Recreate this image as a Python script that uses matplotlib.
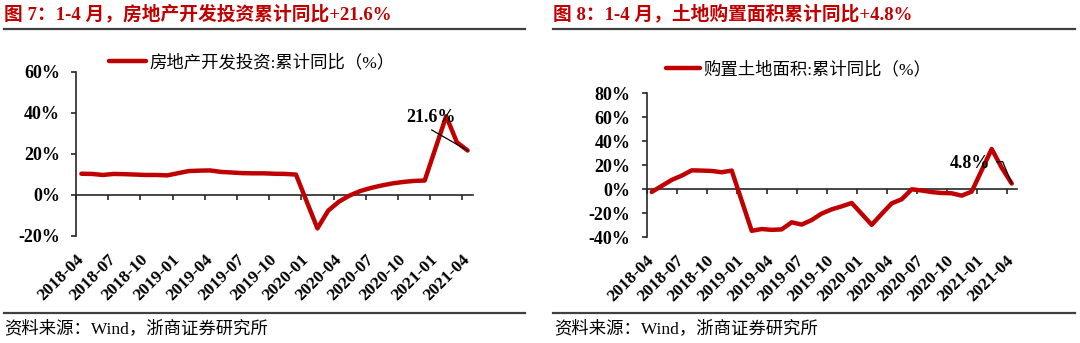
import numpy as np
import matplotlib
matplotlib.use('Agg')
import matplotlib.pyplot as plt
from matplotlib.lines import Line2D

# ---------------- data ----------------
months = ['2018-04', '2018-05', '2018-06', '2018-07', '2018-08', '2018-09', '2018-10', '2018-11', '2018-12',
          '2019-01', '2019-02', '2019-03', '2019-04', '2019-05', '2019-06', '2019-07', '2019-08', '2019-09',
          '2019-10', '2019-11', '2019-12', '2020-01', '2020-02', '2020-03', '2020-04', '2020-05', '2020-06',
          '2020-07', '2020-08', '2020-09', '2020-10', '2020-11', '2020-12', '2021-01', '2021-02', '2021-03',
          '2021-04']
nan = float('nan')
invest_yoy = [10.3, 10.2, 9.7, 10.2, 10.1, 9.9, 9.7, 9.7, 9.5,
              nan, 11.6, 11.8, 11.9, 11.2, 10.9, 10.6, 10.5, 10.5,
              10.3, 10.2, 9.9, nan, -16.3, -7.7, -3.3, -0.3, 1.9,
              3.4, 4.6, 5.6, 6.3, 6.8, 7.0, nan, 38.3, 25.6,
              21.6]
land_yoy = [-2.2, 2.8, 7.8, 11.4, 15.8, 15.6, 15.3, 14.2, 15.6,
            nan, -34.6, -33.1, -33.8, -33.4, -27.5, -29.4, -25.6, -20.2,
            -16.7, -14.2, -11.4, nan, -29.6, -20.5, -11.7, -8.3, 0.0,
            -1.0, -2.3, -3.1, -3.3, -5.3, -1.9, nan, 33.6, 18.0,
            4.8]
tick_label_months = months[::3]

left_title = '图 7：1-4 月，房地产开发投资累计同比+21.6%'
right_title = '图 8：1-4 月，土地购置面积累计同比+4.8%'
left_legend = '房地产开发投资:累计同比（%）'
right_legend = '购置土地面积:累计同比（%）'
source_text = '资料来源：Wind，浙商证券研究所'

RED = '#C00000'
SERIF_CJK = ['Liberation Serif', 'Noto Sans CJK SC']
W, H = 1080, 343

fig = plt.figure(figsize=(W / 100, H / 100), dpi=100)


def fx(px):
    return px / W


def fy(py):
    return 1 - py / H


def panel(rect, values, ylim, yticks, legend_label, legend_xy, handle_len,
          annot_text, annot_xy, leader_pts, label_pad):
    ax = fig.add_axes(rect)
    x = np.arange(len(months))
    v = np.array(values, dtype=float)
    m = ~np.isnan(v)
    ax.plot(x[m], v[m], color=RED, lw=3.2, solid_joinstyle='round',
            solid_capstyle='round', label=legend_label, clip_on=False, zorder=3)
    ax.set_xlim(-0.5, len(months) - 0.5)
    ax.set_ylim(*ylim)
    for s in ('top', 'right'):
        ax.spines[s].set_visible(False)
    ax.spines['bottom'].set_position(('data', 0))
    for s in ('left', 'bottom'):
        ax.spines[s].set_color('#262626')
        ax.spines[s].set_linewidth(1.2)
    ax.set_facecolor('none')

    ax.set_yticks(yticks)
    ax.set_yticklabels([f'{t:.0f}%' for t in yticks])
    ax.tick_params(axis='y', direction='out', length=3.5, width=1.2, color='#262626', pad=8)
    for lab in ax.get_yticklabels():
        lab.set_fontfamily('Liberation Serif')
        lab.set_fontweight('bold')
        lab.set_fontsize(13)

    ax.set_xticks(np.arange(-0.5, len(months), 3))
    ax.set_xticklabels([])
    ax.tick_params(axis='x', which='major', direction='out', length=3.5, width=1.2, color='#262626')
    ax.set_xticks(np.arange(0, len(months), 3), minor=True)
    ax.set_xticklabels(tick_label_months, minor=True)
    ax.tick_params(axis='x', which='minor', length=0, pad=label_pad)
    for lab in ax.get_xticklabels(minor=True):
        lab.set_fontfamily('Liberation Serif')
        lab.set_fontweight('bold')
        lab.set_fontsize(12.5)
        lab.set_rotation(45)
        lab.set_ha('right')
        lab.set_va('center')
        lab.set_rotation_mode('anchor')

    leg = ax.legend(loc='center left', bbox_to_anchor=legend_xy, bbox_transform=fig.transFigure,
                    frameon=False, handlelength=handle_len, handletextpad=0.18, borderpad=0,
                    borderaxespad=0, prop={'family': SERIF_CJK, 'size': 12.5})
    leg.get_lines()[0].set_linewidth(3.2)

    ax.text(annot_xy[0], annot_xy[1], annot_text, ha='center', va='center',
            fontfamily='Liberation Serif', fontweight='bold', fontsize=13, zorder=4)
    lx = [p[0] for p in leader_pts] + [x[-1]]
    ly = [p[1] for p in leader_pts] + [v[-1]]
    ax.plot(lx, ly, color='black', lw=0.9, zorder=4)
    return ax


# left panel
panel([fx(76), fy(236), fx(473 - 76), (236 - 71.6) / H], invest_yoy, (-20, 60),
      [-20, 0, 20, 40, 60], left_legend, (fx(109), fy(62.5)), 2.15,
      '21.6%', (32.56, 37.7), [(32.65, 31.6)], 45)

# right panel
panel([fx(646.7), fy(237.3), fx(370), (237.3 - 93.3) / H], land_yoy, (-40, 80),
      [-40, -20, 0, 20, 40, 60, 80], right_legend, (fx(666), fy(70)), 1.95,
      '4.8%', (31.78, 21.7), [(34.5, 23.0), (35.1, 23.0)], 49.5)

# titles
for x0, t in ((4, left_title), (553, right_title)):
    fig.text(fx(x0), fy(13.5), t, ha='left', va='center', color=RED,
             fontfamily=SERIF_CJK, fontweight='bold', fontsize=13.5)

# rules
for (x0, x1) in ((3.5, 525), (553, 1075)):
    for yy in (29.3, 312.7):
        fig.add_artist(Line2D([fx(x0), fx(x1)], [fy(yy), fy(yy)], color='#404040', lw=1.6))

# sources
for x0 in (4, 554):
    fig.text(fx(x0), fy(329), source_text, ha='left', va='center', color='black',
             fontfamily=SERIF_CJK, fontsize=12.5)

fig.savefig('out.png', dpi=100)
